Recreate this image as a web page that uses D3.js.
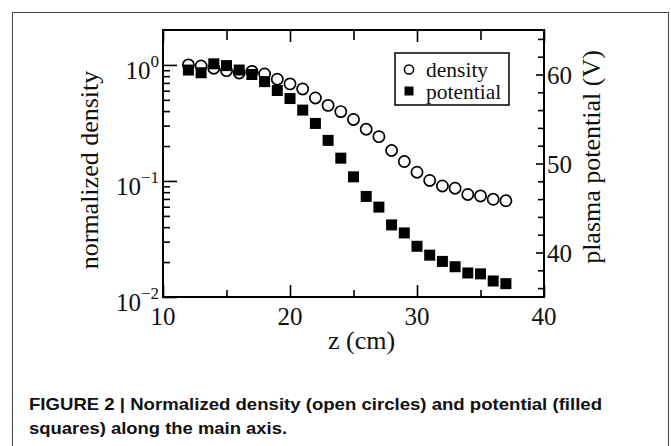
<!DOCTYPE html>
<html>
<head>
<meta charset="utf-8">
<script src="https://cdn.jsdelivr.net/npm/d3@7"></script>
<style>
	body { margin: 0; background: #fff; }
	svg text { font-family: "Liberation Serif", "DejaVu Serif", serif; fill: #111; }
	.caption { font-family: "Liberation Sans", Arial, sans-serif !important; font-weight: bold; }
</style>
</head>
<body>
<div id="chart"></div>
<script>
// Values
var zValues = [12, 13, 14, 15, 16, 17, 18, 19, 20, 21, 22, 23, 24, 25, 26, 27, 28, 29, 30, 31, 32, 33, 34, 35, 36, 37];
var density = [1.0, 0.98, 0.937, 0.893, 0.853, 0.879, 0.836, 0.753, 0.686, 0.621, 0.519, 0.448, 0.396, 0.339,
	0.279, 0.241, 0.183, 0.147, 0.119, 0.101, 0.0906, 0.0866, 0.0765, 0.0743, 0.0695, 0.0675];
var potential = [60.5, 60.2, 61.2, 61.0, 60.5, 60.0, 59.2, 58.2, 57.3, 56.0, 54.5, 52.6, 50.6, 48.5,
	46.3, 45.1, 43.1, 42.2, 40.7, 39.7, 39.0, 38.4, 37.7, 37.6, 36.8, 36.5];

var xMajor = [10, 20, 30, 40];
var xMinor = [15, 25, 35];
var yLeftMajor = [0.01, 0.1, 1];
var yLeftExp = ["\u22122", "\u22121", "0"];
var yRightMajor = [40, 50, 60];
var legendLabels = ["density", "potential"];
var captionLines = [
	"FIGURE 2 | Normalized density (open circles) and potential (filled",
	"squares) along the main axis."
];

var width = 671, height = 446;
var margin = {top: 30, right: 127, bottom: 149, left: 163};
var plotW = width - margin.left - margin.right;
var plotH = height - margin.top - margin.bottom;

var svg = d3.select("#chart").append("svg")
	.attr("width", width)
	.attr("height", height);

// outer figure frame
svg.append("rect")
	.attr("x", 12.5).attr("y", 12.5)
	.attr("width", 656).attr("height", 460)
	.attr("fill", "none")
	.attr("stroke", "#444")
	.attr("stroke-width", 1);

var g = svg.append("g")
	.attr("transform", `translate(${margin.left}, ${margin.top})`);

// Scales
var x = d3.scaleLinear().domain([10, 40]).range([0, plotW]);
var yL = d3.scaleLog().domain([0.01, 2]).range([plotH, 0]);
var yR = d3.scaleLinear().domain([35, 65]).range([plotH, 0]);

// minor log ticks
var yLeftMinor = [];
[0.01, 0.1].forEach(function(dec){
	for (var k = 2; k <= 9; k++) yLeftMinor.push(dec * k);
});
var yRightMinor = d3.range(36, 65, 2).filter(v => yRightMajor.indexOf(v) == -1);

function styleAxis(sel){
	sel.select(".domain").remove();
	sel.selectAll("line").attr("stroke", "#000").attr("stroke-width", 1.6);
	sel.selectAll("text").remove();
}

// x axes (bottom + top), ticks pointing in
g.append("g").attr("transform", `translate(0, ${plotH})`)
	.call(d3.axisBottom(x).tickValues(xMajor).tickSize(-12)).call(styleAxis);
g.append("g").attr("transform", `translate(0, ${plotH})`)
	.call(d3.axisBottom(x).tickValues(xMinor).tickSize(-7)).call(styleAxis);
g.append("g")
	.call(d3.axisTop(x).tickValues(xMajor).tickSize(-12)).call(styleAxis);
g.append("g")
	.call(d3.axisTop(x).tickValues(xMinor).tickSize(-10)).call(styleAxis);

// left log axis
g.append("g")
	.call(d3.axisLeft(yL).tickValues(yLeftMajor).tickSize(-14)).call(styleAxis);
g.append("g")
	.call(d3.axisLeft(yL).tickValues(yLeftMinor).tickSize(-7)).call(styleAxis);

// right linear axis
g.append("g").attr("transform", `translate(${plotW}, 0)`)
	.call(d3.axisRight(yR).tickValues(yRightMajor).tickSize(-8)).call(styleAxis);
g.append("g").attr("transform", `translate(${plotW}, 0)`)
	.call(d3.axisRight(yR).tickValues(yRightMinor).tickSize(-6)).call(styleAxis);

// plot frame
g.append("rect")
	.attr("width", plotW).attr("height", plotH)
	.attr("fill", "none")
	.attr("stroke", "#000")
	.attr("stroke-width", 2);

// tick labels
g.selectAll(".xlab").data(xMajor).enter().append("text")
	.attr("x", d => x(d))
	.attr("y", plotH + 28)
	.attr("text-anchor", "middle")
	.style("font-size", "25px")
	.text(d => d);

var ylab = g.selectAll(".ylab").data(yLeftMajor).enter().append("text")
	.attr("x", -4)
	.attr("y", d => yL(d) + 14)
	.attr("text-anchor", "end")
	.style("font-size", "25px");
ylab.append("tspan").text("10");
ylab.append("tspan")
	.attr("dy", -12)
	.style("font-size", "17px")
	.text((d, i) => yLeftExp[i]);

g.selectAll(".rlab").data(yRightMajor).enter().append("text")
	.attr("x", plotW + 3)
	.attr("y", d => yR(d) + 9)
	.style("font-size", "25px")
	.text(d => d);

// axis titles
svg.append("text")
	.attr("transform", `translate(${margin.left + plotW/2 + 8}, 349)`)
	.attr("text-anchor", "middle")
	.style("font-size", "26px")
	.text("z (cm)");
svg.append("text")
	.attr("transform", `translate(98, 170) rotate(-90)`)
	.attr("text-anchor", "middle")
	.style("font-size", "26px")
	.text("normalized density");
svg.append("text")
	.attr("transform", `translate(600, 157) rotate(-90)`)
	.attr("text-anchor", "middle")
	.style("font-size", "26px")
	.text("plasma potential (V)");

// density: open circles
g.selectAll(".dens").data(zValues).enter().append("circle")
	.attr("class", "dens")
	.attr("cx", d => x(d))
	.attr("cy", (d, i) => yL(density[i]))
	.attr("r", 5.6)
	.attr("fill", "#fff")
	.attr("stroke", "#000")
	.attr("stroke-width", 1.7);

// potential: filled squares
var sq = 11;
g.selectAll(".pot").data(zValues).enter().append("rect")
	.attr("class", "pot")
	.attr("x", d => x(d) - sq/2)
	.attr("y", (d, i) => yR(potential[i]) - sq/2)
	.attr("width", sq).attr("height", sq)
	.attr("fill", "#000");

// legend
var lg = svg.append("g").attr("transform", "translate(395, 53)");
lg.append("rect")
	.attr("width", 114).attr("height", 52)
	.attr("fill", "#fff")
	.attr("stroke", "#000")
	.attr("stroke-width", 1.5);
lg.append("circle")
	.attr("cx", 14).attr("cy", 16.5).attr("r", 4.6)
	.attr("fill", "#fff").attr("stroke", "#000").attr("stroke-width", 1.5);
lg.append("rect")
	.attr("x", 9.5).attr("y", 33.5).attr("width", 9).attr("height", 9)
	.attr("fill", "#000");
lg.selectAll(".legtxt").data(legendLabels).enter().append("text")
	.attr("x", 31)
	.attr("y", (d, i) => 23.5 + i * 22.5)
	.style("font-size", "21.5px")
	.text(d => d);

// caption
var capWidths = [573, 258];
svg.selectAll(".caption").data(captionLines).enter().append("text")
	.attr("class", "caption")
	.attr("x", 29)
	.attr("y", (d, i) => 409.5 + i * 24)
	.attr("textLength", (d, i) => capWidths[i])
	.attr("lengthAdjust", "spacingAndGlyphs")
	.style("font-size", "17px")
	.text(d => d);
</script>
</body>
</html>
